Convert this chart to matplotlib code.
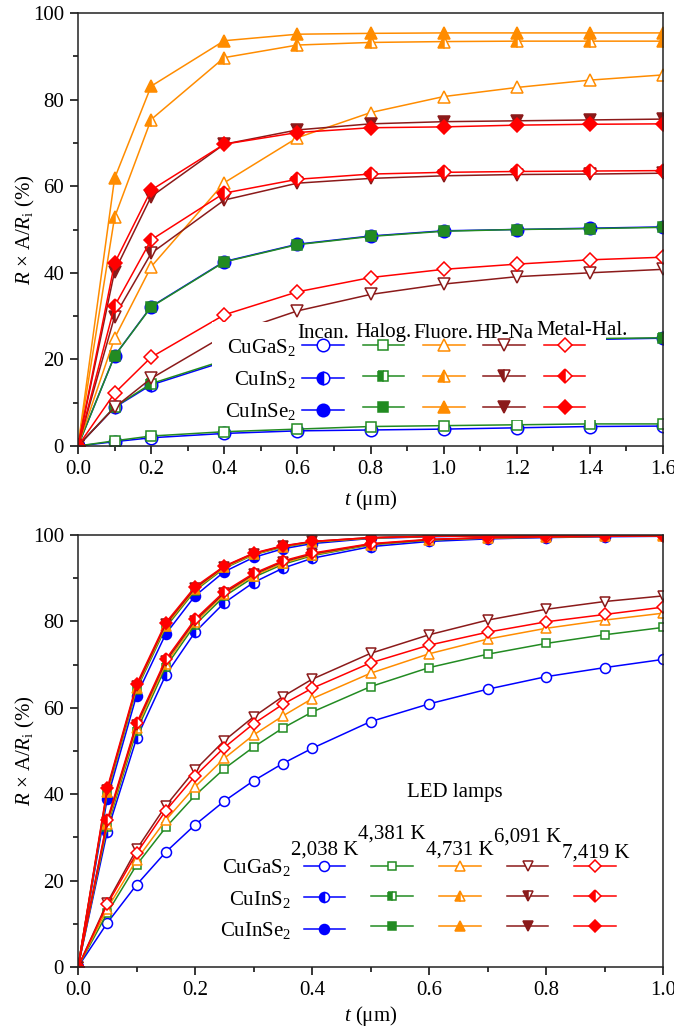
import matplotlib
matplotlib.use("Agg")
import matplotlib.pyplot as plt
from matplotlib.patches import Rectangle
from matplotlib.ticker import MultipleLocator

plt.rcParams['font.family'] = 'Liberation Serif'
plt.rcParams['mathtext.fontset'] = 'custom'
plt.rcParams['mathtext.rm'] = 'Liberation Serif'
plt.rcParams['mathtext.it'] = 'Liberation Serif:italic'

# series names
materials = ['CuGaS$_2$', 'CuInS$_2$', 'CuInSe$_2$']
lamps_top = ['Incan.', 'Halog.', 'Fluore.', 'HP-Na', 'Metal-Hal.']
lamps_led = ['2,038 K', '4,381 K', '4,731 K', '6,091 K', '7,419 K']

# top panel: thickness (um) and values per lamp, rows = CuGaS2, CuInS2, CuInSe2
t_top = [0, 0.1, 0.2, 0.4, 0.6, 0.8, 1.0, 1.2, 1.4, 1.6]
incan = [[0, 1.0, 1.9, 2.9, 3.5, 3.7, 3.9, 4.2, 4.5, 4.6],
         [0, 8.9, 14.1, 19.5, 21.8, 23.0, 23.8, 24.3, 24.6, 24.9],
         [0, 20.8, 32.2, 42.6, 46.6, 48.5, 49.7, 50.0, 50.3, 50.6]]
halog = [[0, 1.2, 2.3, 3.3, 3.9, 4.5, 4.7, 4.9, 5.1, 5.1],
         [0, 9.0, 14.4, 19.8, 22.1, 23.3, 24.1, 24.5, 24.8, 25.0],
         [0, 20.8, 32.1, 42.5, 46.5, 48.4, 49.6, 50.0, 50.2, 50.5]]
fluore = [[0, 24.9, 41.4, 60.8, 71.2, 77.0, 80.7, 82.8, 84.5, 85.7],
          [0, 52.8, 75.4, 89.7, 92.6, 93.2, 93.4, 93.5, 93.5, 93.5],
          [0, 61.8, 83.1, 93.6, 95.1, 95.3, 95.4, 95.4, 95.4, 95.4]]
hpna = [[0, 8.9, 15.6, 25.5, 31.2, 35.0, 37.4, 39.1, 40.0, 40.8],
        [0, 29.9, 44.5, 56.8, 60.7, 61.8, 62.4, 62.7, 62.8, 63.0],
        [0, 40.3, 57.6, 69.7, 73.0, 74.4, 74.9, 75.1, 75.3, 75.5]]
metal = [[0, 12.2, 20.5, 30.3, 35.6, 38.9, 40.8, 42.0, 43.0, 43.6],
         [0, 32.3, 47.6, 58.4, 61.6, 62.8, 63.2, 63.4, 63.5, 63.6],
         [0, 42.2, 59.1, 69.7, 72.4, 73.5, 73.7, 74.1, 74.3, 74.4]]

# bottom panel: LED lamps
t_led = [0, 0.05, 0.1, 0.15, 0.2, 0.25, 0.3, 0.35, 0.4, 0.5, 0.6, 0.7, 0.8, 0.9, 1.0]
led_2038 = [[0, 10.2, 19.0, 26.6, 32.9, 38.4, 43.1, 47.1, 50.6, 56.8, 60.9, 64.3, 67.2, 69.3, 71.2],
            [0, 31.3, 52.9, 67.6, 77.5, 84.3, 89.0, 92.3, 94.6, 97.3, 98.5, 99.1, 99.4, 99.6, 99.7],
            [0, 39.0, 62.8, 77.1, 85.9, 91.5, 94.8, 96.8, 98.0, 99.2, 99.6, 99.8, 99.9, 99.9, 100]]
led_4381 = [[0, 12.5, 23.6, 32.3, 39.7, 45.9, 50.9, 55.3, 59.0, 64.9, 69.3, 72.4, 74.9, 76.9, 78.6],
            [0, 32.5, 54.6, 69.5, 79.2, 85.8, 90.2, 93.2, 95.2, 97.7, 98.8, 99.3, 99.5, 99.7, 99.8],
            [0, 40.2, 64.2, 78.6, 87.1, 92.3, 95.4, 97.2, 98.3, 99.3, 99.7, 99.8, 99.9, 99.9, 100]]
led_4731 = [[0, 13.5, 24.8, 34.0, 41.7, 48.3, 53.7, 58.1, 62.1, 68.0, 72.5, 75.9, 78.4, 80.3, 81.9],
            [0, 33.0, 55.3, 70.2, 79.8, 86.3, 90.6, 93.5, 95.4, 97.8, 98.9, 99.3, 99.5, 99.7, 99.8],
            [0, 40.6, 64.6, 79.0, 87.4, 92.5, 95.5, 97.3, 98.4, 99.3, 99.7, 99.8, 99.9, 99.9, 100]]
led_6091 = [[0, 14.9, 27.2, 37.3, 45.6, 52.4, 57.9, 62.6, 66.6, 72.6, 76.9, 80.3, 82.8, 84.6, 85.9],
            [0, 33.6, 56.0, 70.8, 80.2, 86.6, 90.9, 93.8, 95.6, 97.9, 98.9, 99.4, 99.6, 99.7, 99.8],
            [0, 41.0, 65.0, 79.4, 87.7, 92.7, 95.7, 97.4, 98.5, 99.4, 99.7, 99.8, 99.9, 99.9, 100]]
led_7419 = [[0, 14.5, 26.3, 36.2, 44.2, 50.8, 56.3, 60.8, 64.5, 70.4, 74.5, 77.5, 79.9, 81.6, 83.3],
            [0, 34.0, 56.4, 71.2, 80.5, 86.9, 91.1, 94.0, 95.8, 98.0, 99.0, 99.4, 99.6, 99.7, 99.8],
            [0, 41.4, 65.4, 79.7, 88.0, 92.8, 95.8, 97.5, 98.5, 99.4, 99.7, 99.8, 99.9, 99.9, 100]]

colors = ['#0000FF', '#228B22', '#FF8C00', '#8B1A1A', '#FF0000']
markers = ['o', 's', '^', 'v', 'D']
msize = {'o': 9, 's': 7, '^': 9, 'v': 9, 'D': 7.5}


def draw(ax, t, groups, scale, lw):
    handles = []
    for j, rows in enumerate(groups):
        c, m = colors[j], markers[j]
        for i, y in enumerate(rows):
            kw = dict(color=c, marker=m, ms=msize[m] * scale, mec=c, mew=1.1, lw=lw)
            if i == 0:
                kw.update(mfc='white')
            elif i == 1:
                kw.update(mfc=c, fillstyle='left', markerfacecoloralt='white')
            else:
                kw.update(mfc=c)
            ln, = ax.plot(t, y, zorder=2, **kw)
            handles.append(ln)
    return handles


def style(ax, xmax, xlab_off):
    ax.set_xlim(0, xmax)
    ax.set_ylim(0, 100)
    ax.xaxis.set_major_locator(MultipleLocator(0.2))
    ax.xaxis.set_minor_locator(MultipleLocator(0.1))
    ax.yaxis.set_major_locator(MultipleLocator(20))
    ax.yaxis.set_minor_locator(MultipleLocator(10))
    ax.tick_params(which='both', direction='out', top=False, right=False, labelsize=15, width=1.1)
    ax.tick_params(which='major', length=6, pad=4)
    ax.tick_params(which='minor', length=3.5)
    ax.xaxis.set_major_formatter(lambda v, p: f'{v:.1f}')
    for s in ax.spines.values():
        s.set_linewidth(1.1)
        s.set_color('#222222')
    ax.set_xlabel('$t$ (μm)', fontsize=15)
    ax.set_ylabel('$R$ × A/$R_\\mathrm{i}$ (%)', fontsize=15)
    ax.yaxis.set_label_coords(-41 / 585, 0.5)
    ax.xaxis.set_label_coords(0.5, -xlab_off / 433)


W, H = 674, 1030
fig = plt.figure(figsize=(W / 100, H / 100), dpi=100)
ax1 = fig.add_axes([78 / W, 1 - 446 / H, 585 / W, 433 / H])
ax2 = fig.add_axes([78 / W, 1 - 967 / H, 585 / W, 432 / H])

h1 = draw(ax1, t_top, [incan, halog, fluore, hpna, metal], 1.0, 1.1)
h2 = draw(ax2, t_led, [led_2038, led_4381, led_4731, led_6091, led_7419], 0.8, 1.1)
style(ax1, 1.6, 42)
style(ax2, 1.0, 37)

# white area behind the top legend
ax1.add_patch(Rectangle((212 / W, 1 - 420 / H), (606 - 212) / W, (420 - 322) / H,
                        transform=fig.transFigure, facecolor='white', edgecolor='none', zorder=3))


def table_legend(ax, handles, pos, spacing, tpad, lspace):
    labels = []
    for j in range(5):
        labels += materials if j == 0 else ['', '', '']
    leg = ax.legend(handles, labels, ncol=5, markerfirst=False, frameon=False, fontsize=15,
                    handlelength=2.0, handletextpad=tpad, columnspacing=spacing, labelspacing=lspace,
                    loc='center', bbox_to_anchor=(pos[0] / W, 1 - pos[1] / H),
                    bbox_transform=fig.transFigure, borderpad=0)
    leg.set_zorder(5)
    return leg


leg1 = table_legend(ax1, h1, (405, 379.5), 0.6, 0.3, 0.55)
leg2 = table_legend(ax2, h2, (418, 899), 0.65, 0.6, 0.5)

ax2.text(455 / W, 1 - 792 / H, 'LED lamps', transform=fig.transFigure, fontsize=15,
         ha='center', va='center')

# column headers centred over the legend handles
fig.canvas.draw()
r = fig.canvas.get_renderer()
inv = fig.transFigure.inverted()
head_y1 = [333, 333, 333, 333, 330]
head_y2 = [850, 834, 850, 837, 853]
for leg, names, ys, dx in [(leg1, lamps_top, head_y1, [0, 0, 0, 0, 17]), (leg2, lamps_led, head_y2, [0] * 5)]:
    hs = leg.legend_handles
    for j, name in enumerate(names):
        bb = hs[j * 3].get_window_extent(r)
        xc = inv.transform(((bb.x0 + bb.x1) / 2 + dx[j], 0))[0]
        fig.text(xc, 1 - ys[j] / H, name, fontsize=15, ha='center', va='center', zorder=6)

fig.savefig('out.png', dpi=100)
